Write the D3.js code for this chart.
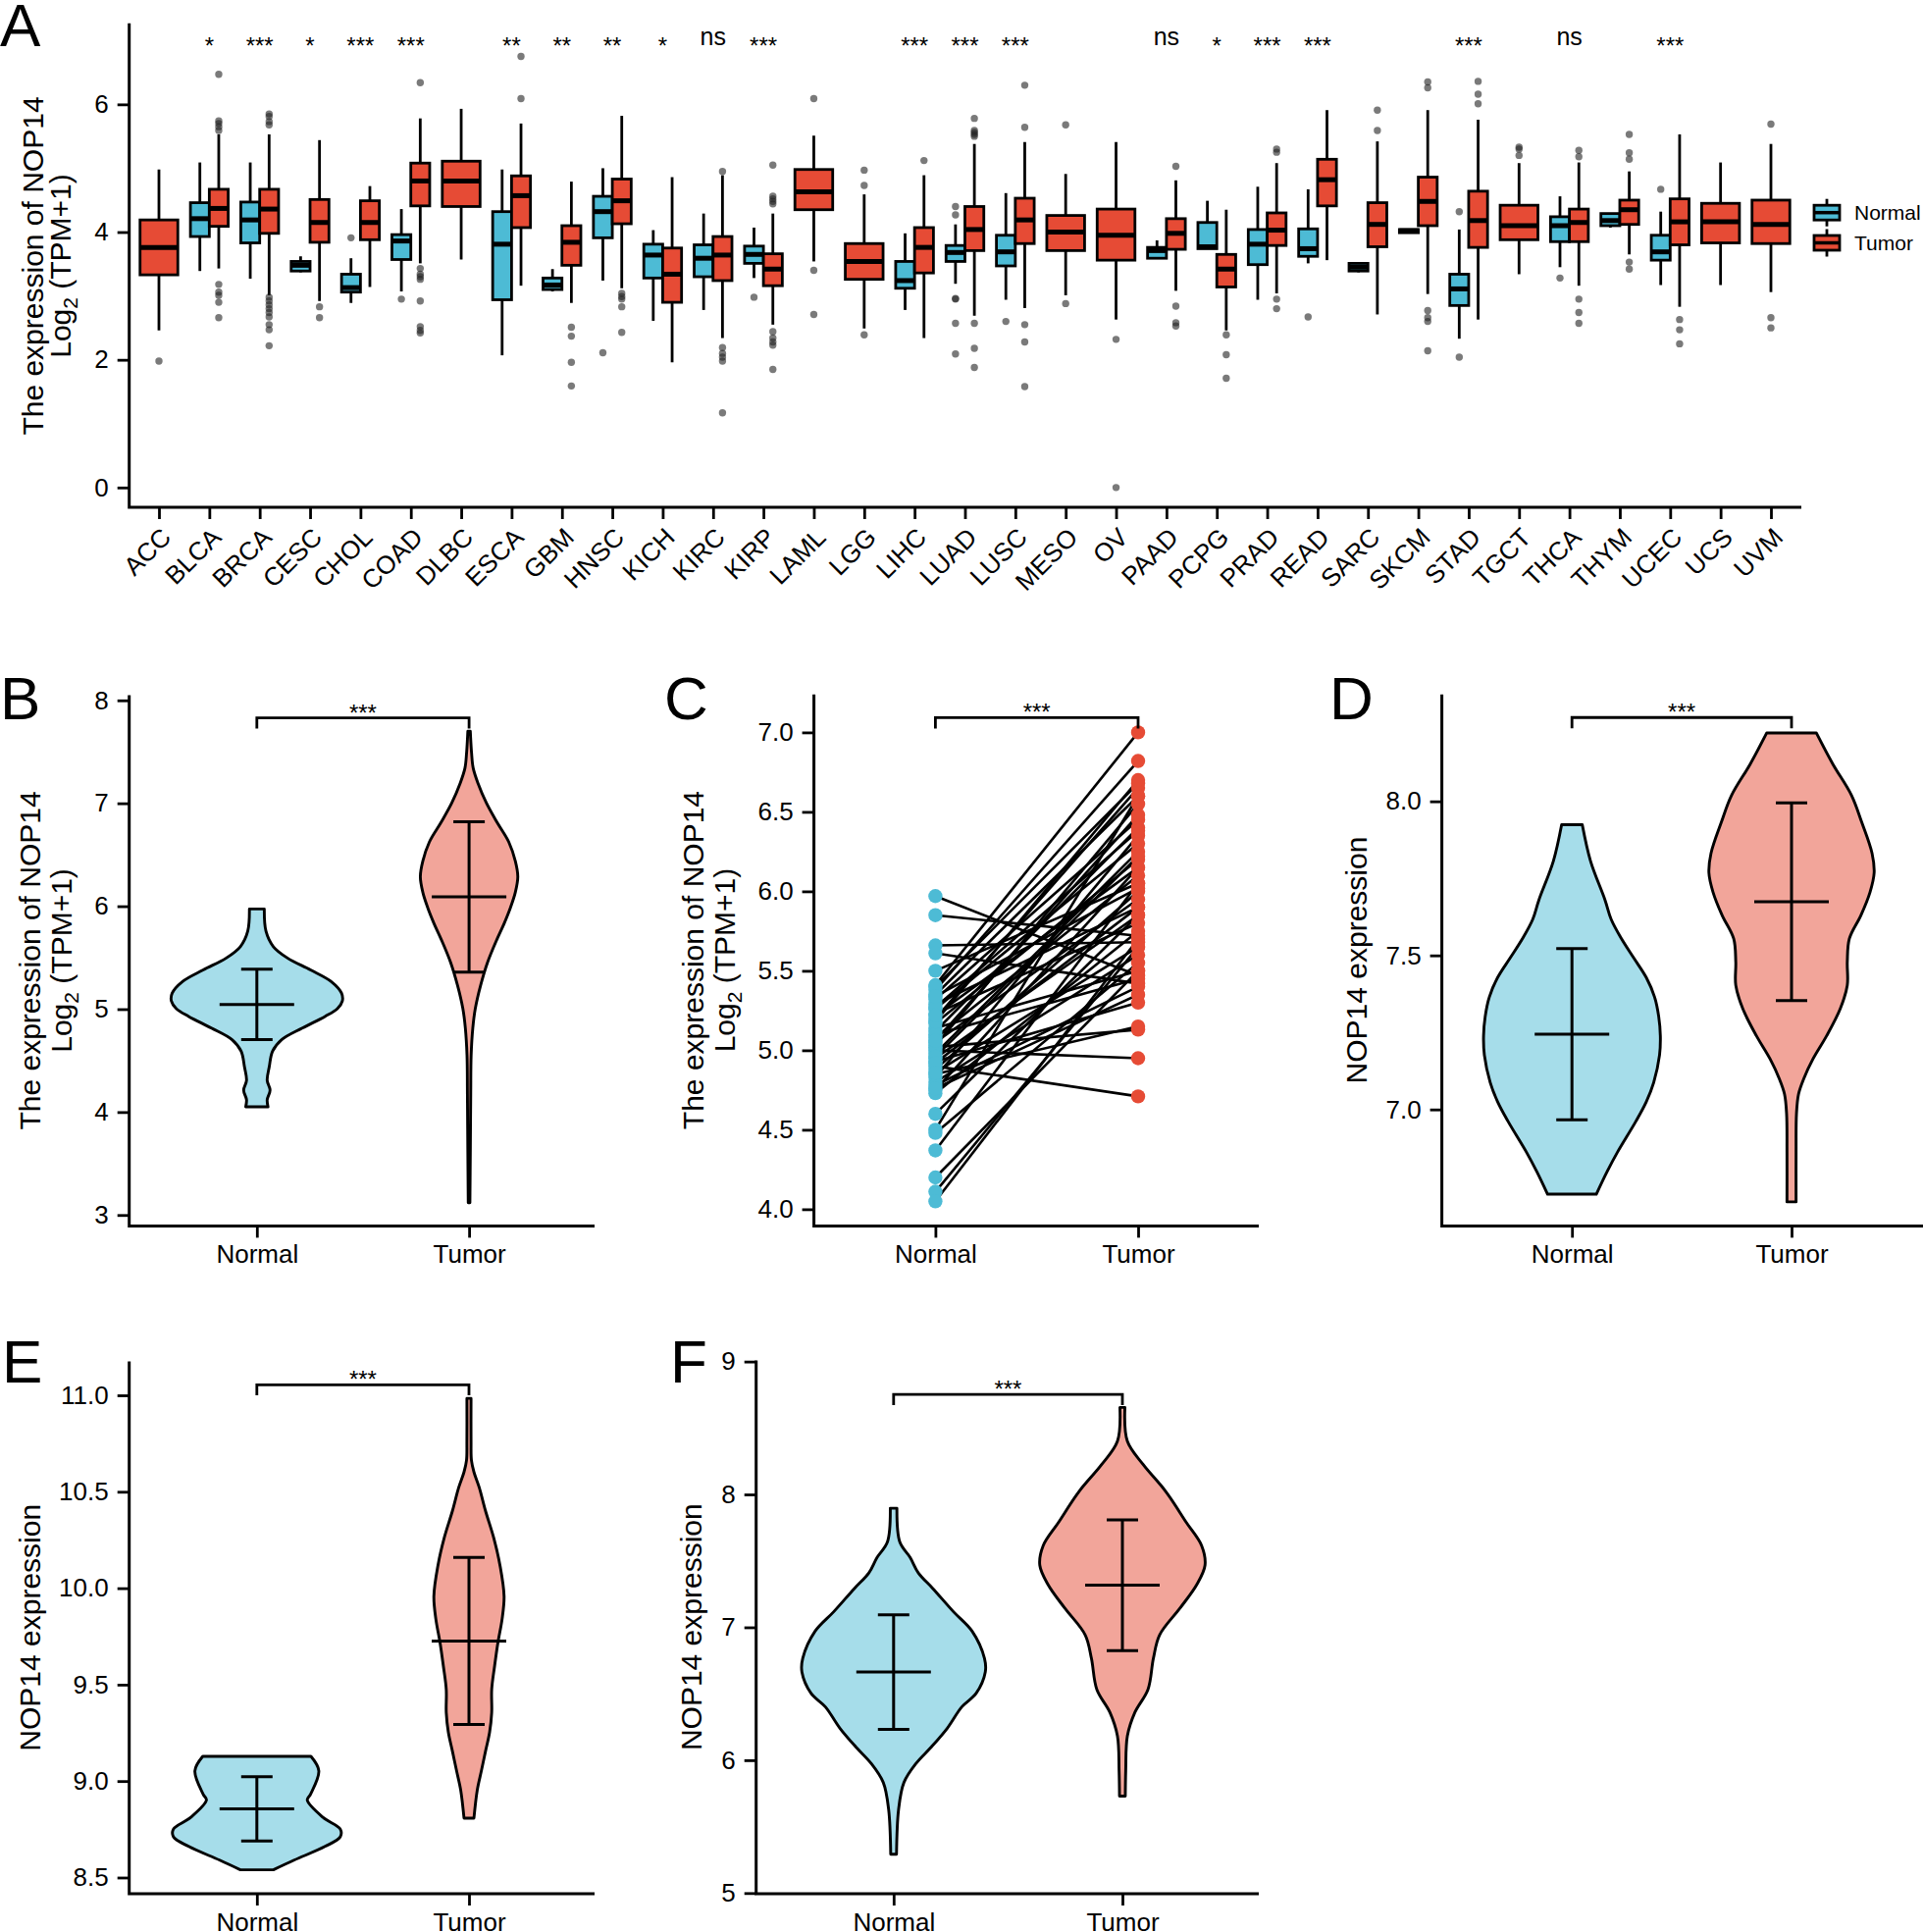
<!DOCTYPE html>
<html>
<head>
<meta charset="utf-8">
<script src="https://cdn.jsdelivr.net/npm/d3@7"></script>
<style>
  body { margin: 0; background: #fff; }
  text { font-family: "Liberation Sans", Arial, Helvetica, sans-serif; fill: #000; }
</style>
</head>
<body>
<svg id="fig" width="1960" height="1969"></svg>
<script>
// ---------------- data ----------------
const cancers = ["ACC","BLCA","BRCA","CESC","CHOL","COAD","DLBC","ESCA","GBM","HNSC","KICH","KIRC","KIRP","LAML","LGG","LIHC","LUAD","LUSC","MESO","OV","PAAD","PCPG","PRAD","READ","SARC","SKCM","STAD","TGCT","THCA","THYM","UCEC","UCS","UVM"];
const sigLabels = ["","*","***","*","***","***","","**","**","**","*","ns","***","","","***","***","***","","","ns","*","***","***","","","***","","ns","","***","",""];

// box stats: [lower whisker, q1, median, q3, upper whisker]
const normalBox = [
  null,[3.39,3.93,4.21,4.46,5.09],[3.27,3.83,4.19,4.47,5.09],[3.37,3.39,3.48,3.54,3.62],[2.89,3.06,3.13,3.34,3.59],
  [3.07,3.57,3.86,3.96,4.36],null,[2.07,2.94,3.81,4.32,4.98],[3.07,3.10,3.17,3.28,3.42],[3.24,3.91,4.32,4.56,5.00],
  [2.61,3.28,3.64,3.81,4.03],[2.78,3.30,3.59,3.80,4.29],[3.28,3.51,3.65,3.78,4.07],null,null,
  [2.78,3.12,3.24,3.54,3.98],[3.19,3.54,3.68,3.79,4.12],[2.94,3.47,3.69,3.95,4.61],null,null,
  [3.58,3.59,3.71,3.76,3.87],[3.74,3.74,3.77,4.15,4.49],[2.94,3.49,3.81,4.04,4.71],[3.51,3.62,3.74,4.05,4.67],[3.37,3.39,3.45,3.51,3.53],
  [3.99,3.99,4.02,4.04,4.04],[2.33,2.85,3.11,3.34,4.04],null,[3.45,3.85,4.10,4.24,4.56],[4.07,4.10,4.18,4.29,4.30],
  [3.17,3.56,3.69,3.95,4.32],null,null
];
const tumorBox = [
  [2.46,3.33,3.76,4.19,4.98],[3.43,4.09,4.37,4.67,5.53],[3.01,3.98,4.36,4.67,5.53],[2.92,3.84,4.15,4.51,5.44],[3.14,3.88,4.15,4.49,4.72],
  [3.51,4.41,4.80,5.08,5.78],[3.57,4.40,4.80,5.11,5.93],[3.16,4.07,4.57,4.88,5.70],[2.89,3.48,3.84,4.10,4.79],[3.12,4.13,4.49,4.83,5.82],
  [1.96,2.90,3.34,3.75,4.86],[2.34,3.24,3.64,3.93,4.89],[2.55,3.16,3.42,3.66,4.29],[3.54,4.35,4.63,4.98,5.51],[2.49,3.26,3.54,3.82,4.59],
  [2.34,3.36,3.76,4.07,4.89],[2.69,3.71,4.04,4.40,5.38],[2.81,3.82,4.19,4.53,5.41],[3.01,3.71,4.00,4.26,4.91],[2.63,3.56,3.95,4.36,5.41],
  [3.08,3.73,3.98,4.21,4.81],[2.46,3.14,3.42,3.65,4.35],[3.04,3.79,4.03,4.30,5.08],[3.56,4.41,4.82,5.14,5.91],[2.71,3.77,4.12,4.46,5.42],
  [3.03,4.10,4.48,4.86,5.91],[2.63,3.76,4.18,4.64,5.76],[3.34,3.88,4.10,4.42,5.08],[3.16,3.85,4.15,4.36,5.09],[3.65,4.12,4.35,4.50,4.95],
  [2.83,3.80,4.16,4.52,5.53],[3.17,3.83,4.16,4.45,5.09],[3.06,3.82,4.12,4.50,5.38]
];
const normalOut = [[],[],[],[],[3.91],[2.95],[],[],[],[2.11],[],[],[2.98],[],[],[],
  [4.40,4.27,2.96,2.95,2.57,2.09],[2.60],[],[],[],[],[],[2.67],[],[],[4.32,2.04],[],[3.28],[],[4.67],[],[]];
const tumorOut = [
  [1.98],[6.47,5.74,5.70,5.65,5.59,3.18,3.06,3.01,2.90,2.66],[5.85,5.81,5.73,5.68,2.98,2.92,2.86,2.80,2.74,2.67,2.55,2.47,2.22],
  [2.83,2.66],[],[6.34,3.43,3.34,3.30,3.26,2.92,2.52,2.46,2.42],[],[6.75,6.09],[2.51,2.37,1.96,1.59],[3.04,2.99,2.95,2.83,2.43],
  [],[4.95,2.19,2.10,2.04,1.98,1.17],[5.05,4.56,4.52,4.48,4.44,2.44,2.34,2.28,2.23,1.85],[6.09,3.40,2.71],[4.97,4.73,2.39],
  [5.12],[5.78,5.59,5.56,5.53,5.50,2.57,2.18,1.88],[6.30,5.64,2.55,2.28,1.58],[5.68,2.88],[2.32,0.0],[5.03,2.84,2.58,2.53],
  [2.39,2.08,1.71],[5.30,5.25,2.95,2.80],[],[5.91,5.59],[6.35,6.26,2.77,2.66,2.60,2.14],[6.36,6.16,6.01],[5.33,5.30,5.20],
  [5.28,5.18,2.95,2.74,2.57],[5.53,5.24,5.14,3.53,3.42],[2.63,2.47,2.25],[],[5.69,2.66,2.50]
];

const groups = ["Normal", "Tumor"];

// violin outlines: [value, relative density]
const violinBNormal = [[5.973,0.18],[5.758,0.22],[5.607,0.40],[5.494,0.75],[5.381,1.30],[5.268,1.80],[5.155,2.05],[5.080,2.07],[5.005,1.95],[4.929,1.65],[4.816,1.10],[4.703,0.60],[4.590,0.38],[4.439,0.30],[4.307,0.25],[4.213,0.32],[4.119,0.25],[4.051,0.27]];
const violinBTumor = [[7.699,0.03],[7.491,0.06],[7.341,0.10],[7.190,0.22],[7.002,0.42],[6.813,0.68],[6.625,0.96],[6.437,1.12],[6.286,1.18],[6.135,1.12],[5.984,1.00],[5.833,0.85],[5.683,0.68],[5.457,0.45],[5.231,0.28],[5.005,0.15],[4.816,0.09],[4.552,0.05],[4.175,0.04],[3.610,0.03],[3.120,0.02]];
const violinDNormal = [[7.924,0.25],[7.806,0.45],[7.680,0.80],[7.617,0.95],[7.554,1.20],[7.491,1.50],[7.428,1.80],[7.365,2.00],[7.302,2.10],[7.239,2.14],[7.176,2.12],[7.088,1.98],[7.025,1.80],[6.962,1.55],[6.861,1.10],[6.798,0.85],[6.725,0.59]];
const violinDTumor = [[8.222,0.60],[8.121,1.00],[8.020,1.45],[7.932,1.70],[7.831,1.95],[7.768,2.00],[7.705,1.90],[7.630,1.68],[7.554,1.40],[7.479,1.35],[7.403,1.35],[7.327,1.18],[7.239,0.85],[7.164,0.52],[7.101,0.30],[7.050,0.17],[6.987,0.12],[6.861,0.11],[6.700,0.11]];
const violinENormal = [[9.128,1.31],[9.053,1.50],[8.932,1.30],[8.902,1.22],[8.812,1.60],[8.751,2.02],[8.711,2.02],[8.661,1.65],[8.590,0.90],[8.540,0.40]];
const violinETumor = [[10.984,0.05],[10.763,0.05],[10.662,0.06],[10.602,0.12],[10.521,0.25],[10.401,0.40],[10.260,0.60],[10.119,0.75],[9.958,0.85],[9.837,0.80],[9.717,0.70],[9.596,0.62],[9.475,0.55],[9.355,0.55],[9.254,0.50],[9.154,0.40],[9.053,0.30],[8.953,0.20],[8.808,0.12]];
const violinFNormal = [[7.896,0.08],[7.642,0.15],[7.526,0.40],[7.409,0.60],[7.292,0.95],[7.117,1.45],[6.971,1.90],[6.766,2.20],[6.664,2.22],[6.504,2.00],[6.401,1.65],[6.241,1.30],[6.095,0.90],[5.978,0.55],[5.832,0.25],[5.628,0.12],[5.292,0.07]];
const violinFTumor = [[8.655,0.06],[8.401,0.12],[8.226,0.50],[8.022,1.05],[7.788,1.55],[7.613,1.92],[7.467,2.00],[7.321,1.80],[7.146,1.40],[6.942,0.90],[6.766,0.75],[6.533,0.62],[6.358,0.30],[6.182,0.12],[5.920,0.08],[5.730,0.07]];

// mean, sd per group
const summaryB = [[5.046, 0.343], [6.090, 0.731]];
const summaryD = [[7.244, 0.278], [7.674, 0.321]];
const summaryE = [[8.856, 0.167], [9.726, 0.433]];
const summaryF = [[6.663, 0.431], [7.317, 0.492]];

// paired samples (panel C)
const pairedNormal = [5.97,5.85,5.66,5.61,5.50,5.41,5.38,5.35,5.32,5.29,5.26,5.23,5.20,5.17,5.14,5.12,5.08,5.05,5.03,5.00,4.98,4.95,4.93,4.90,4.88,4.85,4.83,4.80,4.78,4.75,4.73,4.60,4.50,4.48,4.37,4.20,4.11,4.05,5.40,5.02,4.96,5.10,5.18,5.27,4.92,4.86,5.06,5.34,4.76,5.22];
const pairedTumor  = [5.47,5.72,5.68,5.42,6.05,7.00,6.82,6.60,6.45,5.90,6.30,5.80,6.65,6.20,5.50,6.40,6.10,5.95,6.55,4.95,6.25,5.85,5.30,4.71,6.00,5.15,6.35,5.60,5.40,6.15,5.75,5.85,6.60,5.55,6.05,5.50,5.65,5.70,6.68,5.13,6.22,5.45,6.70,6.38,5.90,5.65,6.48,6.02,5.35,6.15];

// ---------------- drawing ----------------
const NORMAL = "#4DBBD5", TUMOR = "#E64B35";
const NORMAL_L = "#A6DDEA", TUMOR_L = "#F2A59A";
const DENS_PX = 42.1;

const svg = d3.select("#fig");
svg.append("rect").attr("width", 1960).attr("height", 1969).attr("fill", "#fff");

function styleAxis(g, fs) {
  g.select(".domain").remove();
  g.selectAll(".tick line").attr("stroke", "#000").attr("stroke-width", 2.8);
  g.selectAll(".tick text").attr("fill", "#000").attr("font-size", fs)
    .attr("font-family", "Liberation Sans, Arial, sans-serif");
}

function axisLines(g, left, right, top, bottom) {
  g.append("path")
    .attr("d", `M${left},${top}V${bottom}H${right}`)
    .attr("fill", "none").attr("stroke", "#000").attr("stroke-width", 3)
    .attr("stroke-linejoin", "miter");
}

function yTitle(g, lines, xs, cy) {
  lines.forEach((ln, i) => {
    const t = g.append("text")
      .attr("transform", `translate(${xs[i]},${cy}) rotate(-90)`)
      .attr("text-anchor", "middle").attr("dy", "0.35em").attr("font-size", 30);
    if (ln === "log") {
      t.append("tspan").text("Log");
      t.append("tspan").attr("font-size", 21).attr("dy", 7).text("2");
      t.append("tspan").attr("dy", -7).text(" (TPM+1)");
    } else {
      t.text(ln);
    }
  });
}

function letter(txt, x, y) {
  svg.append("text").attr("x", x).attr("y", y).attr("font-size", 62).text(txt);
}

// ----- panel A -----
const gA = svg.append("g");
const xA = d3.scalePoint().domain(cancers).range([162, 1805]);
const yA = d3.scaleLinear().domain([-0.31, 7.27]).range([517, 23.7]);
const halfStep = 9.62, fullW = 38.5;

const boxes = [];
cancers.forEach((c, i) => {
  const both = normalBox[i] && tumorBox[i];
  if (normalBox[i]) boxes.push({s: normalBox[i], out: normalOut[i], fill: NORMAL,
    cx: xA(c) - (both ? halfStep : 0), w: both ? fullW / 2 : fullW});
  if (tumorBox[i]) boxes.push({s: tumorBox[i], out: tumorOut[i], fill: TUMOR,
    cx: xA(c) + (both ? halfStep : 0), w: both ? fullW / 2 : fullW});
});

const bx = gA.selectAll("g.box").data(boxes).join("g").attr("class", "box");
bx.append("line").attr("x1", d => d.cx).attr("x2", d => d.cx)
  .attr("y1", d => yA(d.s[0])).attr("y2", d => yA(d.s[4]))
  .attr("stroke", "#000").attr("stroke-width", 2.8);
bx.append("rect")
  .attr("x", d => d.cx - d.w / 2).attr("width", d => d.w)
  .attr("y", d => yA(d.s[3])).attr("height", d => Math.max(1, yA(d.s[1]) - yA(d.s[3])))
  .attr("fill", d => d.fill).attr("stroke", "#000").attr("stroke-width", 2.8);
bx.append("line").attr("x1", d => d.cx - d.w / 2).attr("x2", d => d.cx + d.w / 2)
  .attr("y1", d => yA(d.s[2])).attr("y2", d => yA(d.s[2]))
  .attr("stroke", "#000").attr("stroke-width", 5);
bx.selectAll("circle").data(d => d.out.map(v => ({v, cx: d.cx}))).join("circle")
  .attr("cx", d => d.cx).attr("cy", d => yA(d.v)).attr("r", 3.7)
  .attr("fill", "#222").attr("fill-opacity", 0.6);

axisLines(gA, 131.7, 1836, 23.7, 517);
const yAxA = gA.append("g").attr("transform", "translate(131.7,0)")
  .call(d3.axisLeft(yA).tickValues([0, 2, 4, 6]).tickSize(12).tickPadding(9));
styleAxis(yAxA, 26);
const xAxA = gA.append("g").attr("transform", "translate(0,517)")
  .call(d3.axisBottom(xA).tickSize(12));
styleAxis(xAxA, 26);
xAxA.selectAll(".tick text")
  .attr("y", 0).attr("x", 0).attr("dy", "0.72em")
  .attr("text-anchor", "end")
  .attr("transform", "translate(0,19) rotate(-45)");

gA.selectAll("text.sig")
  .data(cancers.map((c, i) => ({c, l: sigLabels[i]})).filter(d => d.l))
  .join("text").attr("class", "sig")
  .attr("x", d => xA(d.c)).attr("y", d => d.l === "ns" ? 46 : 55)
  .attr("text-anchor", "middle").attr("font-size", d => d.l === "ns" ? 25 : 24)
  .text(d => d.l);

// legend
const lg = gA.append("g");
const legItems = lg.selectAll("g").data(groups).join("g")
  .attr("transform", (d, i) => `translate(1862,${216.7 + i * 30.8})`);
legItems.append("line").attr("y1", -14).attr("y2", 14).attr("stroke", "#000").attr("stroke-width", 2.8);
legItems.append("rect").attr("x", -13).attr("y", -7.5).attr("width", 26).attr("height", 15)
  .attr("fill", (d, i) => [NORMAL, TUMOR][i]).attr("stroke", "#000").attr("stroke-width", 2.8);
legItems.append("line").attr("x1", -13).attr("x2", 13).attr("stroke", "#000").attr("stroke-width", 3.5);
legItems.append("text").attr("x", 28).attr("dy", "0.35em").attr("font-size", 21).text(d => d);

yTitle(gA, ["The expression of NOP14", "log"], [33, 61], 271);
letter("A", 0, 47);

// ----- panels B-F -----
function violinPanel(p) {
  const g = svg.append("g");
  const y = d3.scaleLinear().domain(p.domain).range([p.bottom, p.top]);
  const x = d3.scalePoint().domain(groups).range(p.xr);
  const w = d3.scaleLinear().domain([0, 1]).range([0, DENS_PX]);

  if (p.violins) {
    g.selectAll("path.violin").data(p.violins).join("path").attr("class", "violin")
      .attr("d", (v, i) => d3.area().curve(d3.curveCatmullRom)
        .y(e => y(e[0]))
        .x0(e => x(groups[i]) - w(e[1]))
        .x1(e => x(groups[i]) + w(e[1]))(v))
      .attr("fill", (v, i) => [NORMAL_L, TUMOR_L][i])
      .attr("stroke", "#000").attr("stroke-width", 2.9).attr("stroke-linejoin", "round");

    const eb = g.selectAll("g.eb").data(p.summary).join("g").attr("class", "eb");
    eb.append("path")
      .attr("d", (s, i) => {
        const cx = x(groups[i]), hi = y(s[0] + s[1]), lo = y(s[0] - s[1]), m = y(s[0]);
        return `M${cx},${hi}V${lo}M${cx - 16},${hi}H${cx + 16}M${cx - 16},${lo}H${cx + 16}M${cx - 38},${m}H${cx + 38}`;
      })
      .attr("stroke", "#000").attr("stroke-width", 3).attr("fill", "none");
  }

  if (p.paired) {
    const pairs = p.paired[0].map((n, i) => [n, p.paired[1][i]]);
    g.selectAll("line.pair").data(pairs).join("line").attr("class", "pair")
      .attr("x1", x("Normal")).attr("x2", x("Tumor"))
      .attr("y1", d => y(d[0])).attr("y2", d => y(d[1]))
      .attr("stroke", "#000").attr("stroke-width", 2.6);
    g.selectAll("circle.n").data(p.paired[0]).join("circle").attr("class", "n")
      .attr("cx", x("Normal")).attr("cy", d => y(d)).attr("r", 7.2).attr("fill", NORMAL);
    g.selectAll("circle.t").data(p.paired[1]).join("circle").attr("class", "t")
      .attr("cx", x("Tumor")).attr("cy", d => y(d)).attr("r", 7.2).attr("fill", TUMOR);
  }

  // significance bracket
  const by = y(p.bracket[0]), bt = y(p.bracket[0] - p.bracket[1]);
  g.append("path")
    .attr("d", `M${x("Normal")},${bt}V${by}H${x("Tumor")}V${bt}`)
    .attr("fill", "none").attr("stroke", "#000").attr("stroke-width", 2.8);
  g.append("text").attr("x", (x("Normal") + x("Tumor")) / 2).attr("y", by + 3)
    .attr("text-anchor", "middle").attr("font-size", 24).text("***");

  axisLines(g, p.left, p.right, p.top, p.bottom);
  const ya = g.append("g").attr("transform", `translate(${p.left},0)`)
    .call(d3.axisLeft(y).tickValues(p.ticks).tickFormat(d3.format(p.fmt)).tickSize(12).tickPadding(9));
  styleAxis(ya, 26);
  const xa = g.append("g").attr("transform", `translate(0,${p.bottom})`)
    .call(d3.axisBottom(x).tickSize(12));
  styleAxis(xa, 26);
  xa.selectAll(".tick text").attr("y", 38).attr("dy", 0);

  yTitle(g, p.title, p.titleX, (p.top + p.bottom) / 2);
  letter(p.letter[0], p.letter[1], p.letter[2]);
}

violinPanel({
  left: 131.7, right: 606, top: 708.5, bottom: 1249.4, domain: [2.894, 8.05],
  ticks: [3, 4, 5, 6, 7, 8], fmt: "d", xr: [261.8, 478.1],
  violins: [violinBNormal, violinBTumor], summary: summaryB,
  bracket: [7.83, 0.105], title: ["The expression of NOP14", "log"], titleX: [30.5, 62],
  letter: ["B", 0, 733]
});
violinPanel({
  left: 829.6, right: 1283, top: 707.7, bottom: 1249.4, domain: [3.895, 7.239],
  ticks: [4, 4.5, 5, 5.5, 6, 6.5, 7], fmt: ".1f", xr: [953.4, 1160],
  paired: [pairedNormal, pairedTumor],
  bracket: [7.093, 0.069], title: ["The expression of NOP14", "log"], titleX: [706, 738],
  letter: ["C", 677, 733]
});
violinPanel({
  left: 1469.6, right: 1962, top: 707.7, bottom: 1249.4, domain: [6.622, 8.347],
  ticks: [7, 7.5, 8], fmt: ".1f", xr: [1602.2, 1826],
  violins: [violinDNormal, violinDTumor], summary: summaryD,
  bracket: [8.272, 0.035], title: ["NOP14 expression"], titleX: [1382],
  letter: ["D", 1355, 733]
});
violinPanel({
  left: 131.7, right: 606, top: 1387.6, bottom: 1930, domain: [8.416, 11.175],
  ticks: [8.5, 9, 9.5, 10, 10.5, 11], fmt: ".1f", xr: [261.8, 478],
  violins: [violinENormal, violinETumor], summary: summaryE,
  bracket: [11.054, 0.054], title: ["NOP14 expression"], titleX: [30.5],
  letter: ["E", 2, 1409]
});
violinPanel({
  left: 770.7, right: 1283, top: 1386.4, bottom: 1930, domain: [4.995, 9.009],
  ticks: [5, 6, 7, 8, 9], fmt: "d", xr: [910.8, 1144],
  violins: [violinFNormal, violinFTumor], summary: summaryF,
  bracket: [8.753, 0.08], title: ["NOP14 expression"], titleX: [704],
  letter: ["F", 683, 1409]
});
</script>
</body>
</html>
